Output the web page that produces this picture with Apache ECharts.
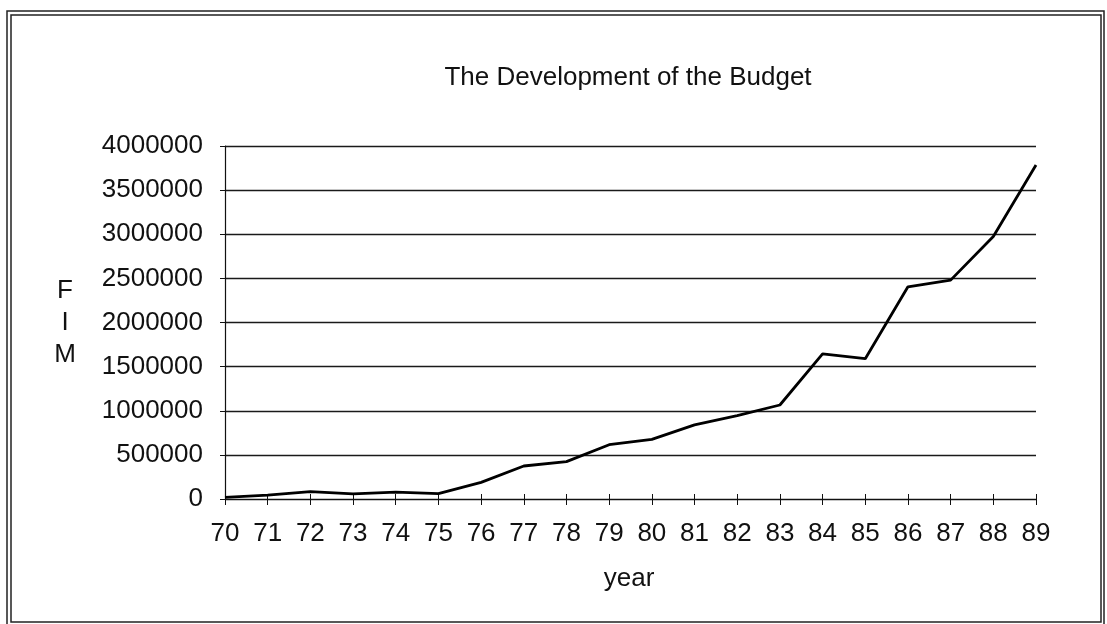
<!DOCTYPE html>
<html>
<head>
<meta charset="utf-8">
<title>The Development of the Budget</title>
<script src="https://cdn.jsdelivr.net/npm/echarts@6/dist/echarts.min.js"></script>
<style>
  html, body { margin: 0; padding: 0; background: #ffffff; }
  #chart { width: 1107px; height: 624px; }
</style>
</head>
<body>
<div id="chart"></div>
<script>
// Budget per year, FIM
const years = ['70','71','72','73','74','75','76','77','78','79',
               '80','81','82','83','84','85','86','87','88','89'];
const budget = [18000, 45000, 83000, 57000, 79000, 62000, 189000, 374000, 423000, 615000,
                675000, 840000, 945000, 1065000, 1645000, 1590000, 2405000, 2480000, 2975000, 3785000];
const yMin = 0;
const yMax = 4000000;
const yStep = 500000;

const titleText = 'The Development of the Budget';
const xName = 'year';
const yNameLetters = ['F', 'I', 'M'];

const FONT = "'Liberation Sans', Arial, sans-serif";
const FONT_SIZE = 26;
const INK = '#111111';

const chart = echarts.init(document.getElementById('chart'), null, { renderer: 'canvas' });

const grid = { left: 225, right: 71, top: 146, bottom: 125 };

function label(text, x, y) {
  return {
    type: 'text', x: x, y: y, silent: true,
    style: { text: text, font: FONT_SIZE + 'px ' + FONT, fill: INK, textAlign: 'center', textVerticalAlign: 'middle' }
  };
}

chart.setOption({
  backgroundColor: '#ffffff',
  animation: false,
  grid: grid,
  xAxis: [
    {
      type: 'category',
      data: years,
      boundaryGap: false,
      axisLine: { show: true, lineStyle: { color: INK, width: 1.2 } },
      axisTick: { show: true, inside: false, length: 6, lineStyle: { color: INK, width: 1 } },
      axisLabel: { margin: 22, fontFamily: FONT, fontSize: FONT_SIZE, color: INK },
      splitLine: { show: false }
    },
    {
      // upper half of the crossing tick marks
      type: 'category',
      data: years,
      boundaryGap: false,
      position: 'bottom',
      axisLine: { show: false },
      axisTick: { show: true, inside: true, length: 5, lineStyle: { color: INK, width: 1 } },
      axisLabel: { show: false },
      splitLine: { show: false }
    }
  ],
  yAxis: {
    type: 'value',
    min: yMin,
    max: yMax,
    interval: yStep,
    axisLine: { show: true, lineStyle: { color: INK, width: 1.2 } },
    axisTick: { show: true, length: 5, lineStyle: { color: INK, width: 1 } },
    axisLabel: {
      margin: 22,
      fontFamily: FONT,
      fontSize: FONT_SIZE,
      color: INK,
      formatter: v => String(v)
    },
    splitLine: { show: true, lineStyle: { color: '#1a1a1a', width: 1.4 } }
  },
  series: [{
    type: 'line',
    data: budget,
    showSymbol: false,
    symbol: 'none',
    lineStyle: { color: '#000000', width: 2.8 },
    z: 5
  }],
  graphic: [
    // double frame round the chart
    { type: 'rect', silent: true, shape: { x: 7, y: 11, width: 1097, height: 616 },
      style: { fill: 'none', stroke: '#222', lineWidth: 1.5 } },
    { type: 'rect', silent: true, shape: { x: 11, y: 15, width: 1090, height: 607 },
      style: { fill: 'none', stroke: '#222', lineWidth: 1.5 } },
    label(titleText, 628, 78),
    label(xName, 629, 579),
    ...yNameLetters.map((ch, i) => label(ch, 65, 291 + i * 32))
  ]
});
</script>
</body>
</html>
